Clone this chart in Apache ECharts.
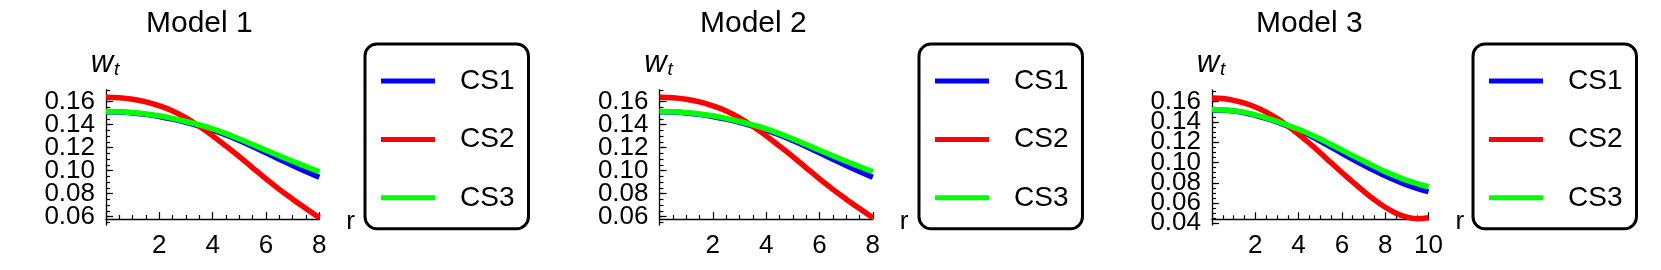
<!DOCTYPE html>
<html>
<head>
<meta charset="utf-8">
<script src="https://cdn.jsdelivr.net/npm/echarts@6/dist/echarts.min.js"></script>
<style>
html,body{margin:0;padding:0;background:#fff;}
#chart{width:1661px;height:270px;}
</style>
</head>
<body>
<div id="chart"></div>
<script>
// ---- data ----
const titles = ['Model 1', 'Model 2', 'Model 3'];
const seriesNames = ['CS1', 'CS2', 'CS3'];
const colors = ['#0000ff', '#ff0000', '#00ff00'];

const r8 = [0,0.5,1,1.5,2,2.5,3,3.5,4,4.5,5,5.5,6,6.5,7,7.5,8];
const r10 = [0,0.5,1,1.5,2,2.5,3,3.5,4,4.5,5,5.5,6,6.5,7,7.5,8,8.5,9,9.5,10];

const m1_cs1 = [0.1512,0.1510,0.1502,0.1490,0.1472,0.1448,0.1420,0.1388,0.1352,0.1310,0.1262,0.1210,0.1155,0.1100,0.1045,0.0992,0.0942];
const m1_cs2 = [0.1638,0.1634,0.1621,0.1598,0.1564,0.1520,0.1460,0.1386,0.1303,0.1214,0.1122,0.1025,0.0929,0.0837,0.0752,0.0670,0.0590];
const m1_cs3 = [0.1515,0.1513,0.1505,0.1494,0.1478,0.1455,0.1428,0.1398,0.1364,0.1322,0.1276,0.1227,0.1178,0.1130,0.1082,0.1036,0.0990];

const m2_cs1 = [0.1512,0.1510,0.1502,0.1490,0.1472,0.1448,0.1420,0.1388,0.1352,0.1310,0.1262,0.1210,0.1155,0.1100,0.1045,0.0992,0.0942];
const m2_cs2 = [0.1638,0.1634,0.1621,0.1598,0.1564,0.1520,0.1460,0.1386,0.1303,0.1214,0.1122,0.1025,0.0929,0.0837,0.0752,0.0670,0.0590];
const m2_cs3 = [0.1515,0.1513,0.1505,0.1494,0.1478,0.1455,0.1428,0.1398,0.1364,0.1322,0.1276,0.1227,0.1178,0.1130,0.1082,0.1036,0.0990];

const m3_cs1 = [0.1518,0.1516,0.1508,0.1492,0.1466,0.1435,0.1400,0.1360,0.1318,0.1268,0.1212,0.1152,0.1091,0.1032,0.0975,0.0920,0.0870,0.0822,0.0778,0.0742,0.0712];
const m3_cs2 = [0.1636,0.1631,0.1614,0.1586,0.1548,0.1498,0.1436,0.1360,0.1278,0.1190,0.1096,0.0997,0.0902,0.0808,0.0717,0.0632,0.0558,0.0500,0.0461,0.0444,0.0454];
const m3_cs3 = [0.1520,0.1518,0.1510,0.1495,0.1470,0.1440,0.1406,0.1368,0.1328,0.1282,0.1232,0.1178,0.1123,0.1068,0.1015,0.0962,0.0910,0.0866,0.0824,0.0790,0.0761];

// tick definitions: [first, last, step]
const yMajor12 = [0.06, 0.16, 0.02];
const yMinor12 = [0.055, 0.17, 0.005];
const yLabelsA12 = [0.06, 0.14, 0.04];
const yLabelsB12 = [0.08, 0.16, 0.04];
const yMajor3 = [0.04, 0.16, 0.02];
const yMinor3 = [0.04, 0.17, 0.005];
const yLabelsA3 = [0.04, 0.16, 0.04];
const yLabelsB3 = [0.06, 0.14, 0.04];

// ---- layout ----
const FONT = "'Liberation Sans', Arial, sans-serif";
const panels = [
  {x: r8,  ys: [m1_cs1, m1_cs2, m1_cs3], xmax: 8,  yMin: 0.0527, yMax: 0.1702, yMajor: yMajor12, yMinor: yMinor12, yLabels: [yLabelsA12, yLabelsB12], xOff: -6,
   grid: {left: 106, top: 90, width: 213.3, height: 135}, titleLeft: 146, legendLeft: 365},
  {x: r8,  ys: [m2_cs1, m2_cs2, m2_cs3], xmax: 8,  yMin: 0.0527, yMax: 0.1702, yMajor: yMajor12, yMinor: yMinor12, yLabels: [yLabelsA12, yLabelsB12], xOff: -6,
   grid: {left: 659.5, top: 90, width: 213.3, height: 135}, titleLeft: 700, legendLeft: 919},
  {x: r10, ys: [m3_cs1, m3_cs2, m3_cs3], xmax: 10, yMin: 0.0383, yMax: 0.1716, yMajor: yMajor3, yMinor: yMinor3, yLabels: [yLabelsA3, yLabelsB3], xOff: -5.7,
   grid: {left: 1212, top: 90, width: 216.5, height: 135}, titleLeft: 1256, legendLeft: 1473}
];

const grid = [], xAxis = [], yAxis = [], series = [], title = [], legend = [];
const black = '#000';

function yPix(p, v) {
  return p.grid.top + (p.yMax - v) / (p.yMax - p.yMin) * p.grid.height;
}

// helper: an overlay grid whose y-range [first,last] lines up with the data scale
function overlayAxis(p, spec, axisOpts) {
  const g = grid.length;
  const top = yPix(p, spec[1]);
  grid.push({left: p.grid.left, width: p.grid.width, top: top, height: yPix(p, spec[0]) - top, containLabel: false});
  xAxis.push({gridIndex: g, type: 'value', show: false, min: 0, max: 1});
  yAxis.push(Object.assign({
    gridIndex: g, type: 'value', min: spec[0], max: spec[1], interval: spec[2], position: 'left',
    axisLine: {show: false, onZero: false},
    splitLine: {show: false}
  }, axisOpts));
}

panels.forEach((p, i) => {
  const gMain = grid.length;
  grid.push(Object.assign({containLabel: false}, p.grid));
  title.push({
    text: titles[i], left: p.titleLeft, top: 9, padding: 0,
    textStyle: {fontSize: 30, fontWeight: 'normal', color: black, fontFamily: FONT}
  });
  const xMainIdx = xAxis.length;
  xAxis.push({
    gridIndex: gMain, type: 'value', min: 0, max: p.xmax, interval: 2, offset: p.xOff,
    axisLine: {onZero: false, lineStyle: {color: black, width: 1.3}},
    axisTick: {inside: true, length: 7, lineStyle: {color: black, width: 1.2}},
    minorTick: {show: true, splitNumber: 4, length: 4, lineStyle: {color: black, width: 1.2}},
    splitLine: {show: false},
    axisLabel: {fontSize: 26, color: black, margin: 14, fontFamily: FONT,
      formatter: v => (v === 0 ? '' : String(v))},
    name: 'r', nameLocation: 'end', nameGap: 27,
    nameTextStyle: {fontSize: 26, color: black, fontFamily: FONT, verticalAlign: 'top', lineHeight: 26, padding: [-10, 0, 0, 0]}
  });
  const yMainIdx = yAxis.length;
  yAxis.push({
    gridIndex: gMain, type: 'value', min: p.yMin, max: p.yMax, position: 'left',
    axisLine: {show: true, onZero: false, lineStyle: {color: black, width: 1.3}},
    axisTick: {show: false},
    axisLabel: {show: false},
    splitLine: {show: false},
    name: '{w|w}{t|t}', nameLocation: 'end', nameGap: 11,
    nameTextStyle: {
      padding: [0, 2, 0, 0],
      rich: {
        w: {fontSize: 31, fontStyle: 'italic', color: black, fontFamily: FONT},
        t: {fontSize: 19, fontStyle: 'italic', color: black, fontFamily: FONT, padding: [12, 0, 0, 1]}
      }
    }
  });

  // major ticks
  overlayAxis(p, p.yMajor, {
    axisTick: {show: true, inside: true, length: 7, lineStyle: {color: black, width: 1.2}},
    axisLabel: {show: false}
  });
  // minor ticks
  overlayAxis(p, p.yMinor, {
    axisTick: {show: true, inside: true, length: 4, lineStyle: {color: black, width: 1.2}},
    axisLabel: {show: false}
  });
  // tick labels, split in two interleaved sets so none get hidden for overlapping
  p.yLabels.forEach(spec => {
    overlayAxis(p, spec, {
      axisTick: {show: false},
      axisLabel: {show: true, showMinLabel: true, showMaxLabel: true,
        fontSize: 26, color: black, margin: 11, fontFamily: FONT,
        formatter: v => v.toFixed(2)}
    });
  });

  seriesNames.forEach((name, k) => {
    series.push({
      name: name, type: 'line', xAxisIndex: xMainIdx, yAxisIndex: yMainIdx,
      data: p.x.map((xv, j) => [xv, p.ys[k][j]]),
      smooth: 0.4, showSymbol: false, symbol: 'none', clip: false,
      lineStyle: {color: colors[k], width: 5.5}, itemStyle: {color: colors[k]},
      z: 2 + k, animation: false
    });
  });
  legend.push({
    data: seriesNames, orient: 'vertical', left: p.legendLeft, top: 44,
    icon: 'rect', itemWidth: 54, itemHeight: 5, itemGap: 28.4,
    padding: [22, 14, 16, 16],
    borderColor: black, borderWidth: 3, borderRadius: 12,
    selectedMode: false,
    formatter: n => '{g|}' + n,
    textStyle: {fontSize: 28, color: black, fontFamily: FONT, lineHeight: 30,
      rich: {g: {width: 20}}}
  });
});

const chart = echarts.init(document.getElementById('chart'), null, {renderer: 'canvas'});
chart.setOption({
  animation: false,
  backgroundColor: '#fff',
  title, grid, xAxis, yAxis, series, legend
});
</script>
</body>
</html>
